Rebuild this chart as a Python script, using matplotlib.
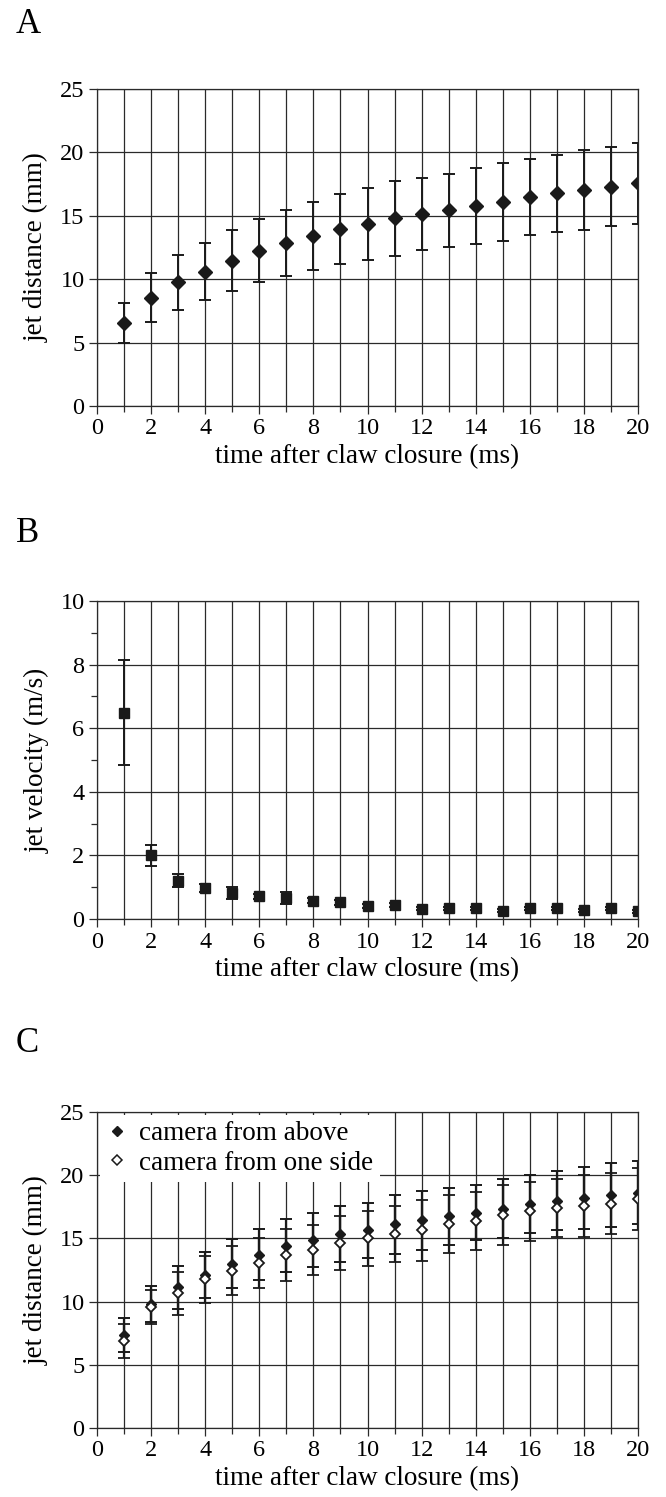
import numpy as np
import matplotlib
matplotlib.use("Agg")
import matplotlib.pyplot as plt
from matplotlib.ticker import MultipleLocator
from matplotlib.lines import Line2D

plt.rcParams['font.family'] = ['Liberation Serif', 'DejaVu Serif']
plt.rcParams['font.size'] = 17.5

t = np.arange(1, 21)

# panel A: jet distance
dist_mean = [6.53, 8.55, 9.74, 10.6, 11.47, 12.26, 12.87, 13.42, 13.95, 14.37,
             14.79, 15.13, 15.42, 15.79, 16.08, 16.5, 16.76, 17.03, 17.29, 17.55]
dist_sd = [1.58, 1.93, 2.13, 2.26, 2.4, 2.5, 2.58, 2.66, 2.79, 2.85,
           2.94, 2.85, 2.9, 2.99, 3.05, 2.98, 3.06, 3.12, 3.13, 3.2]

# panel B: jet velocity
vel_mean = [6.49, 2.0, 1.21, 0.97, 0.81, 0.72, 0.65, 0.58, 0.52, 0.40,
            0.43, 0.32, 0.34, 0.34, 0.26, 0.34, 0.34, 0.28, 0.34, 0.24]
vel_sd = [1.64, 0.34, 0.21, 0.12, 0.19, 0.08, 0.19, 0.07, 0.08, 0.06,
          0.06, 0.05, 0.05, 0.05, 0.05, 0.05, 0.05, 0.05, 0.05, 0.05]

# panel C: two cameras
above_mean = [7.35, 9.8, 11.13, 12.1, 13.0, 13.7, 14.43, 14.87, 15.36, 15.63,
              16.11, 16.43, 16.75, 17.04, 17.36, 17.7, 17.99, 18.2, 18.44, 18.62]
above_sd = [1.35, 1.4, 1.7, 1.85, 1.94, 2.02, 2.07, 2.13, 2.2, 2.2,
            2.33, 2.35, 2.25, 2.2, 2.35, 2.3, 2.35, 2.45, 2.5, 2.5]
side_mean = [6.9, 9.6, 10.66, 11.76, 12.46, 13.05, 13.68, 14.09, 14.66, 15.0,
             15.37, 15.63, 16.11, 16.4, 16.82, 17.14, 17.38, 17.57, 17.75, 18.1]
side_sd = [1.35, 1.35, 1.7, 1.85, 1.96, 2.0, 2.08, 2.0, 2.15, 2.15,
           2.22, 2.4, 2.3, 2.3, 2.38, 2.35, 2.3, 2.45, 2.4, 2.45]

xlabel = 'time after claw closure (ms)'
gc = '#2a2a2a'
lab_fs = 19.5

fig = plt.figure(figsize=(6.66, 14.97), dpi=100)


def style(ax, ymax, ystep, ylabel, minor=None):
    ax.set_xlim(0, 20)
    ax.set_ylim(0, ymax)
    ax.set_xticks(np.arange(0, 21, 2))
    ax.xaxis.set_minor_locator(MultipleLocator(1))
    ax.set_yticks(np.arange(0, ymax + 0.1, ystep))
    if minor:
        ax.yaxis.set_minor_locator(MultipleLocator(minor))
    ax.grid(True, which='major', axis='y', color=gc, lw=0.9)
    ax.grid(True, which='both', axis='x', color=gc, lw=0.9)
    ax.set_axisbelow(True)
    for s in ax.spines.values():
        s.set_color(gc)
        s.set_linewidth(0.9)
    ax.tick_params(which='major', direction='out', length=5.5, width=0.9, color=gc, pad=3.5)
    ax.tick_params(which='minor', direction='out', length=4, width=0.9, color=gc)
    ax.set_xlabel(xlabel, fontsize=lab_fs, labelpad=3)
    ax.set_ylabel(ylabel, fontsize=lab_fs, labelpad=8)


L, W = 97 / 666, 541 / 666

axA = fig.add_axes([L, 1 - 406 / 1497, W, 317 / 1497])
axA.errorbar(t, dist_mean, yerr=dist_sd, fmt='D', color='#1a1a1a', ms=7,
             ecolor='#1a1a1a', elinewidth=1.4, capsize=4, capthick=1.4)
style(axA, 25, 5, 'jet distance (mm)')

axB = fig.add_axes([L, 1 - 919 / 1497, W, 318 / 1497])
axB.errorbar(t, vel_mean, yerr=vel_sd, fmt='s', color='#1a1a1a', ms=7,
             ecolor='#1a1a1a', elinewidth=1.4, capsize=4, capthick=1.4)
style(axB, 10, 2, 'jet velocity (m/s)', minor=1)

axC = fig.add_axes([L, 1 - 1428 / 1497, W, 316 / 1497])
axC.errorbar(t, above_mean, yerr=above_sd, fmt='D', color='#1a1a1a', ms=5.5,
             ecolor='#1a1a1a', elinewidth=1.6, capsize=4, capthick=1.4)
axC.errorbar(t, side_mean, yerr=side_sd, fmt='D', color='#1a1a1a', ms=5.5,
             mfc='white', mew=1.3, ecolor='#1a1a1a', elinewidth=1.6, capsize=4,
             capthick=1.4)
style(axC, 25, 5, 'jet distance (mm)')
handles = [Line2D([], [], ls='none', marker='D', color='#1a1a1a', ms=5.5),
           Line2D([], [], ls='none', marker='D', color='#1a1a1a', mfc='white',
                  mew=1.1, ms=5.5)]
axC.legend(handles, ['camera from above', 'camera from one side'], loc='upper left',
           frameon=True, fancybox=False, edgecolor='none', framealpha=1,
           borderaxespad=0.1, handlelength=0.8, handletextpad=0.4,
           labelspacing=0.15, borderpad=0.25, fontsize=lab_fs)

for lab, y in (('A', 8), ('B', 517), ('C', 1027)):
    fig.text(16 / 666, 1 - y / 1497, lab, fontsize=25, va='top', ha='left')

fig.savefig('out.png', dpi=100)
